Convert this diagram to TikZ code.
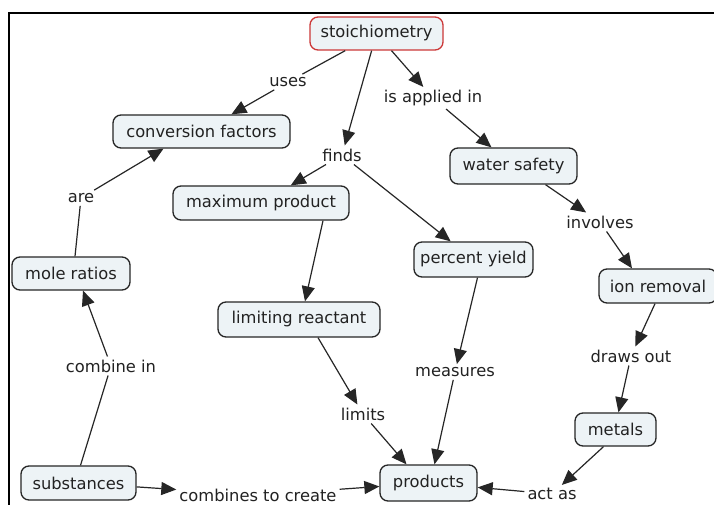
\documentclass[tikz,border=0pt]{standalone}
\usepackage{fontspec}
\setmainfont{DejaVu Sans}
\usetikzlibrary{arrows.meta}
\definecolor{boxfill}{HTML}{EDF3F6}
\definecolor{edge}{HTML}{262626}
\definecolor{txt}{HTML}{222222}
\definecolor{redline}{HTML}{CC3838}
\begin{document}
\begin{tikzpicture}[x=1pt,y=-1pt,
  concept/.style={draw=edge, fill=boxfill, rounded corners=8pt, line width=1.3pt, text=txt,
    font=\fontsize{16.3}{19}\selectfont, inner sep=0pt},
  linklabel/.style={text=txt, font=\fontsize{16.3}{19}\selectfont, inner sep=3pt},
  conn/.style={draw=edge, line width=1.2pt},
  arr/.style={conn, -{Triangle[length=15pt,width=13pt]}}]
\clip (0,0) rectangle (714,505);
\fill[white] (0,0) rectangle (714,505);
\draw[line width=2pt, black] (9,506) -- (9,13) -- (715,13);
% concepts
\node[concept, draw=redline, minimum width=133pt, minimum height=33pt] (stoich) at (376.5,33.5) {stoichiometry};
\node[concept, minimum width=177pt, minimum height=33pt] (conv) at (201.5,131.5) {conversion factors};
\node[concept, minimum width=127pt, minimum height=36pt] (water) at (513.5,166) {water safety};
\node[concept, minimum width=176pt, minimum height=34pt] (maxp) at (261,203) {maximum product};
\node[concept, minimum width=118pt, minimum height=33pt] (mole) at (71,273.5) {mole ratios};
\node[concept, minimum width=119pt, minimum height=35pt] (pyield) at (473.5,259.5) {percent yield};
\node[concept, minimum width=118pt, minimum height=34pt] (ion) at (658,286) {ion removal};
\node[concept, minimum width=162pt, minimum height=35pt] (limreact) at (299,319.5) {limiting reactant};
\node[concept, minimum width=81pt, minimum height=33pt] (metals) at (615.5,429.5) {metals};
\node[concept, minimum width=115pt, minimum height=34pt] (subst) at (78.5,483) {substances};
\node[concept, minimum width=97pt, minimum height=36pt] (prod) at (428.5,483) {products};
% link labels
\node[linklabel] (uses) at (288,82) {uses};
\node[linklabel] (applied) at (433,98) {is applied in};
\node[linklabel] (finds) at (342,155) {finds};
\node[linklabel] (are) at (81,198) {are};
\node[linklabel] (involves) at (600,222) {involves};
\node[linklabel] (combin) at (111,366) {combine in};
\node[linklabel] (measures) at (455,372) {measures};
\node[linklabel] (draws) at (631,356) {draws out};
\node[linklabel] (limits) at (363,414) {limits};
\node[linklabel] (ctc) at (258,495) {combines to create};
\node[linklabel] (actas) at (552,494) {act as};
% connectors
\draw[conn] (stoich) -- (uses);
\draw[arr] (uses) -- (conv);
\draw[arr] (stoich) -- (applied);
\draw[arr] (applied) -- (water);
\draw[arr] (stoich) -- (finds);
\draw[arr] (finds) -- (maxp);
\draw[arr] (finds) -- (pyield);
\draw[arr] ([xshift=62pt]maxp.south) -- ([xshift=6pt]limreact.north);
\draw[arr] ([xshift=19pt]limreact.south) -- (limits);
\draw[arr] (limits) -- ([xshift=-22pt]prod.north);
\draw[arr] ([xshift=4pt]pyield.south) -- (measures);
\draw[arr] (measures) -- ([xshift=6pt]prod.north);
\draw[arr] ([xshift=32pt]water.south) -- (involves);
\draw[arr] (involves) -- ([xshift=-26pt]ion.north);
\draw[arr] ([xshift=-3pt]ion.south) -- (draws);
\draw[arr] (draws) -- ([xshift=3pt]metals.north);
\draw[arr] ([xshift=-12pt]metals.south) -- (actas);
\draw[arr] (actas) -- (prod);
\draw[conn] ([xshift=4pt]mole.north) -- (are);
\draw[arr] (are) -- ([xshift=-38pt]conv.south);
\draw[conn] ([xshift=2pt]subst.north) -- (combin);
\draw[arr] (combin) -- ([xshift=12pt]mole.south);
\draw[arr] (subst) -- (ctc);
\draw[arr] (ctc) -- (prod);
\end{tikzpicture}
\end{document}
